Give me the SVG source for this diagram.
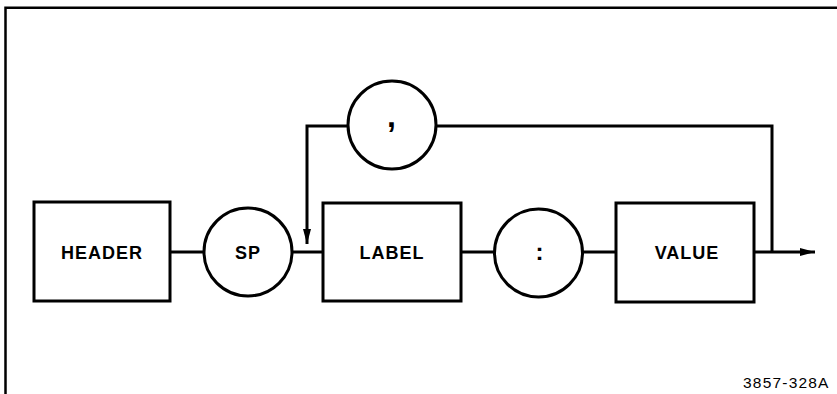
<svg xmlns="http://www.w3.org/2000/svg" width="837" height="394" viewBox="0 0 837 394">
<defs>
<style>
.box{fill:#fff;stroke:#000;stroke-width:3}
.frame{fill:none;stroke:#000;stroke-width:2.5}
.ln{fill:none;stroke:#000;stroke-width:3}
.t{font-family:"Liberation Sans",Arial,sans-serif;font-weight:bold;font-size:18px;text-anchor:middle;letter-spacing:1px}
.id{font-family:"Liberation Sans",Arial,sans-serif;font-size:15.5px;letter-spacing:1.2px}
</style>
<marker id="ah" markerWidth="16" markerHeight="10" refX="15" refY="5" orient="auto" markerUnits="userSpaceOnUse">
<path d="M0,1 L15,5 L0,9 Z" fill="#000"/>
</marker>
</defs>
<rect width="837" height="394" fill="#fff"/>
<path class="frame" d="M5.5,394 V7.8 H837"/>
<g id="connectors">
<line class="ln" x1="170" y1="252" x2="204" y2="252"/>
<line class="ln" x1="292" y1="252" x2="323" y2="252"/>
<line class="ln" x1="461" y1="252" x2="494" y2="252"/>
<line class="ln" x1="583" y1="252" x2="616" y2="252"/>
<line class="ln" x1="755" y1="252" x2="815" y2="252" marker-end="url(#ah)"/>
<path class="ln" d="M348,126 H307 V244" marker-end="url(#ah)"/>
<path class="ln" d="M436,126 H772 V252"/>
</g>
<g id="header"><rect class="box" x="34" y="202" width="136" height="99"/><text class="t" x="102" y="259">HEADER</text></g>
<g id="sp"><circle class="box" cx="248" cy="252" r="44"/><text class="t" x="248" y="259">SP</text></g>
<g id="comma"><circle class="box" cx="392" cy="125" r="44"/><text class="t" x="392" y="127" style="font-size:32px">,</text></g>
<g id="label"><rect class="box" x="323" y="203" width="138" height="98"/><text class="t" x="392" y="259">LABEL</text></g>
<g id="colon"><circle class="box" cx="538.5" cy="253" r="44"/><text class="t" x="540" y="260" style="font-size:24px">:</text></g>
<g id="value"><rect class="box" x="616" y="203" width="138" height="99"/><text class="t" x="687" y="259">VALUE</text></g>
<text class="id" x="743" y="388">3857-328A</text>
</svg>
